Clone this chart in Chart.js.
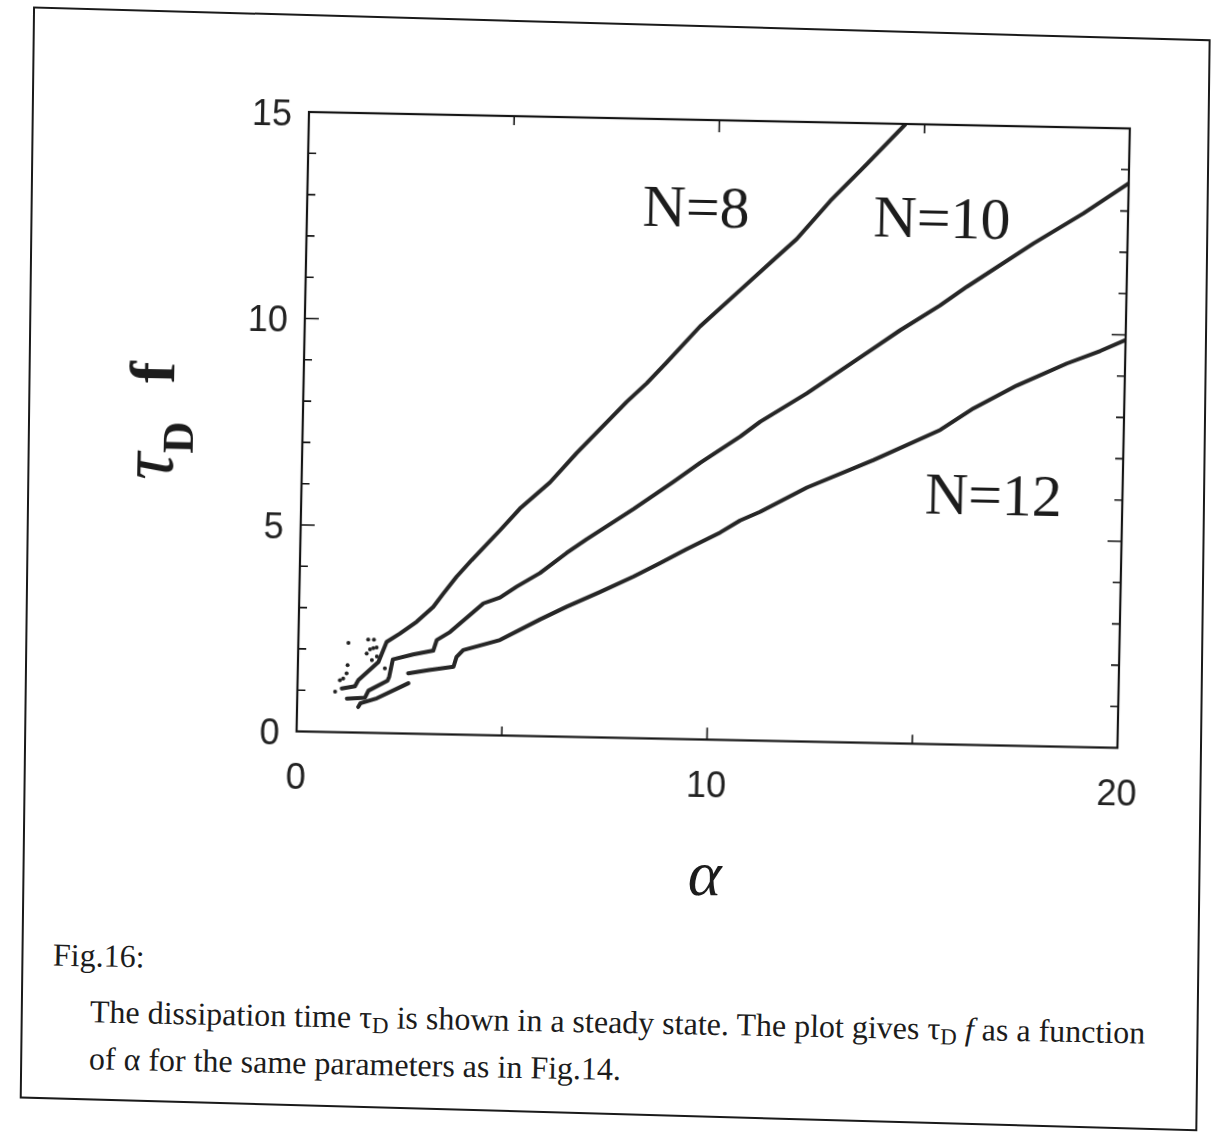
<!DOCTYPE html>
<html>
<head>
<meta charset="utf-8">
<script src="https://cdn.jsdelivr.net/npm/chart.js@4.4.1/dist/chart.umd.min.js"></script>
<style>
  html, body { margin: 0; padding: 0; background: #fff; }
  body { width: 1225px; height: 1134px; overflow: hidden; position: relative; }
  #page {
    position: absolute; left: 0; top: 0; width: 1225px; height: 1134px;
    transform: rotate(1.15deg); transform-origin: 309px 112px;
  }
  #sheet {
    position: absolute; left: 31px; top: 12px; width: 1174px; height: 1088px;
    border: 2px solid #1a1a1a;
    transform: skew(0.45deg, 0.45deg); transform-origin: 0 0;
  }
  #plot { position: absolute; left: 200px; top: 80px; }
  .lbl { position: absolute; transform: translate(-50%, -50%); white-space: nowrap; color: #1c1c1c; }
  .nlab { font-family: "Liberation Serif", serif; font-size: 60px; }
  #alpha { font-family: "Liberation Serif", serif; font-style: italic; font-size: 64px; }
  #ytitle {
    position: absolute; left: 154px; top: 424px; white-space: nowrap; color: #1c1c1c;
    transform: translate(-50%, -50%) rotate(-90deg);
    font-family: "Liberation Serif", serif; font-weight: bold;
  }
  #ytitle .tau { font-size: 76px; font-style: italic; font-weight: normal; }
  #ytitle .sub { font-size: 44px; position: relative; top: 20px; }
  #ytitle .ff { font-size: 64px; margin-left: 38px; }
  .cap { position: absolute; white-space: nowrap; font-family: "Liberation Serif", serif; font-size: 32px; color: #1c1c1c; transform: translateY(-50%); }
  .cap sub { font-size: 23px; vertical-align: -5px; line-height: 0; }
</style>
</head>
<body>
<div id="page">
  <div id="sheet"></div>
  <div id="plot"><canvas id="chart_tau" width="960" height="720"></canvas></div>

  <div class="lbl nlab" style="left:698px; top:199px;">N=8</div>
  <div class="lbl nlab" style="left:944px; top:205px;">N=10</div>
  <div class="lbl nlab" style="left:1001px; top:481px;">N=12</div>

  <div id="ytitle"><span class="tau">τ</span><span class="sub">D</span><span class="ff">f</span></div>
  <div class="lbl" id="alpha" style="left:720px; top:866px;">α</div>

  <div class="cap" style="left:70px; top:960px;">Fig.16:</div>
  <div class="cap" style="left:108px; top:1016px;">The dissipation time τ<sub>D</sub> is shown in a steady state. The plot gives τ<sub>D</sub><i> f </i>as a function</div>
  <div class="cap" style="left:108px; top:1063px;">of α for the same parameters as in Fig.14.</div>
</div>

<script>
// dissipation time tau_D * f against alpha, one trace per N
var alpha8 = [1.08, 1.40, 1.48, 1.96, 2.15, 2.47, 2.87, 3.27, 3.51, 3.82, 4.18, 4.86, 5.33, 6.05, 6.69, 7.24, 7.88, 8.36, 8.84, 9.63, 10.59, 11.38, 11.94, 12.74, 13.60, 14.52];
var tau8   = [1.06, 1.12, 1.27, 1.72, 2.21, 2.42, 2.71, 3.08, 3.41, 3.82, 4.23, 4.97, 5.50, 6.15, 6.88, 7.46, 8.14, 8.60, 9.12, 10.00, 10.90, 11.64, 12.16, 13.10, 14.00, 14.98];

// loose points scattered above the N=8 trace at small alpha
var alpha8Stray = [0.92, 1.22, 1.21, 1.19, 1.11, 1.03, 1.70, 1.84, 1.67, 1.75, 1.83, 1.91, 1.92, 1.80, 2.12];
var tau8Stray   = [0.98, 2.17, 1.63, 1.43, 1.30, 1.26, 2.26, 2.26, 1.92, 2.02, 2.05, 2.07, 1.85, 1.76, 1.57];

var alpha10 = [1.21, 1.65, 1.73, 2.19, 2.23, 2.31, 2.80, 3.29, 3.37, 3.69, 4.49, 4.89, 5.29, 5.85, 6.49, 6.97, 8.10, 9.05, 9.70, 10.66, 11.14, 12.26, 13.86, 14.50, 15.46, 16.11, 17.71, 18.91, 20.00];
var tau10   = [0.82, 0.85, 1.02, 1.27, 1.37, 1.79, 1.92, 2.02, 2.28, 2.48, 3.19, 3.34, 3.61, 3.95, 4.45, 4.79, 5.55, 6.22, 6.70, 7.35, 7.72, 8.43, 9.55, 10.00, 10.62, 11.09, 12.17, 12.92, 13.67];

// null splits the N=12 trace where it jumps at alpha ~ 2.7
var alpha12 = [1.49, 1.54, 1.94, 2.70, 2.70, 2.69, 3.20, 3.79, 3.86, 4.02, 4.91, 5.88, 6.52, 7.32, 8.13, 8.77, 9.41, 10.22, 10.70, 11.18, 12.31, 13.92, 15.53, 16.33, 17.37, 18.58, 19.39, 20.00];
var tau12   = [0.62, 0.71, 0.84, 1.22, null, 1.46, 1.55, 1.64, 1.88, 2.05, 2.31, 2.83, 3.15, 3.52, 3.91, 4.25, 4.60, 5.02, 5.32, 5.54, 6.15, 6.85, 7.61, 8.15, 8.72, 9.28, 9.60, 9.88];

// small inward tick marks on all four sides
var yTickMarks = [1, 2, 3, 4, 5, 6, 7, 8, 9, 10, 11, 12, 13, 14];
var xTickMarks = [5, 10, 15];

function toPoints(xs, ys) {
  var pts = [];
  for (var i = 0; i < xs.length; i++) {
    pts.push({x: xs[i], y: ys[i]});
  }
  return pts;
}

function trace(label, xs, ys) {
  return {
    label: label,
    data: toPoints(xs, ys),
    showLine: true,
    spanGaps: false,
    borderColor: '#262626',
    borderWidth: 4,
    borderJoinStyle: 'round',
    borderCapStyle: 'round',
    pointRadius: 0,
    tension: 0
  };
}

// frame plus tick marks pointing into the plot
var frameTicks = {
  id: 'frameTicks',
  afterDraw: function(chart) {
    var ctx = chart.ctx;
    var a = chart.chartArea;
    var x = chart.scales.x;
    var y = chart.scales.y;
    ctx.save();
    ctx.strokeStyle = '#151515';
    ctx.lineWidth = 2.2;
    ctx.strokeRect(a.left, a.top, a.right - a.left, a.bottom - a.top);
    ctx.lineWidth = 1.6;
    ctx.beginPath();
    yTickMarks.forEach(function(v) {
      var py = y.getPixelForValue(v);
      var len = v % 5 === 0 ? 14 : 8;
      ctx.moveTo(a.left, py); ctx.lineTo(a.left + len, py);
      ctx.moveTo(a.right, py); ctx.lineTo(a.right - len, py);
    });
    xTickMarks.forEach(function(v) {
      var px = x.getPixelForValue(v);
      var len = v % 10 === 0 ? 12 : 9;
      ctx.moveTo(px, a.bottom); ctx.lineTo(px, a.bottom - len);
      ctx.moveTo(px, a.top); ctx.lineTo(px, a.top + len);
    });
    ctx.stroke();
    ctx.restore();
  }
};

// fixed axis boxes, no extra room for overhanging labels
function fixBox(w, h) {
  return function(s) {
    if (w !== null) s.width = w;
    if (h !== null) s.height = h;
    s.paddingLeft = 0; s.paddingRight = 0; s.paddingTop = 0; s.paddingBottom = 0;
  };
}

var tickFont = {family: '"Liberation Sans", Arial, sans-serif', size: 36};

var ctxTau = document.getElementById('chart_tau').getContext('2d');
var chartTau = new Chart(ctxTau, {
  type: 'scatter',
  data: {
    datasets: [
      trace('N=8', alpha8, tau8),
      trace('N=10', alpha10, tau10),
      trace('N=12', alpha12, tau12),
      {
        label: 'N=8 stray',
        data: toPoints(alpha8Stray, tau8Stray),
        showLine: false,
        pointRadius: 2,
        pointBackgroundColor: '#222',
        pointBorderWidth: 0
      }
    ]
  },
  options: {
    responsive: false,
    animation: false,
    devicePixelRatio: 1,
    layout: {padding: {top: 32, right: 30, left: 0, bottom: 0}},
    plugins: {legend: {display: false}, tooltip: {enabled: false}},
    scales: {
      x: {
        type: 'linear', min: 0, max: 20,
        grid: {display: false, drawTicks: false},
        border: {display: false},
        ticks: {stepSize: 10, font: tickFont, color: '#222', padding: 26, maxRotation: 0},
        afterFit: fixBox(null, 68.5)
      },
      y: {
        type: 'linear', min: 0, max: 15,
        grid: {display: false, drawTicks: false},
        border: {display: false},
        ticks: {stepSize: 5, font: tickFont, color: '#222', padding: 17, labelOffset: 4},
        afterFit: fixBox(109, null)
      }
    }
  },
  plugins: [frameTicks]
});
</script>
</body>
</html>
